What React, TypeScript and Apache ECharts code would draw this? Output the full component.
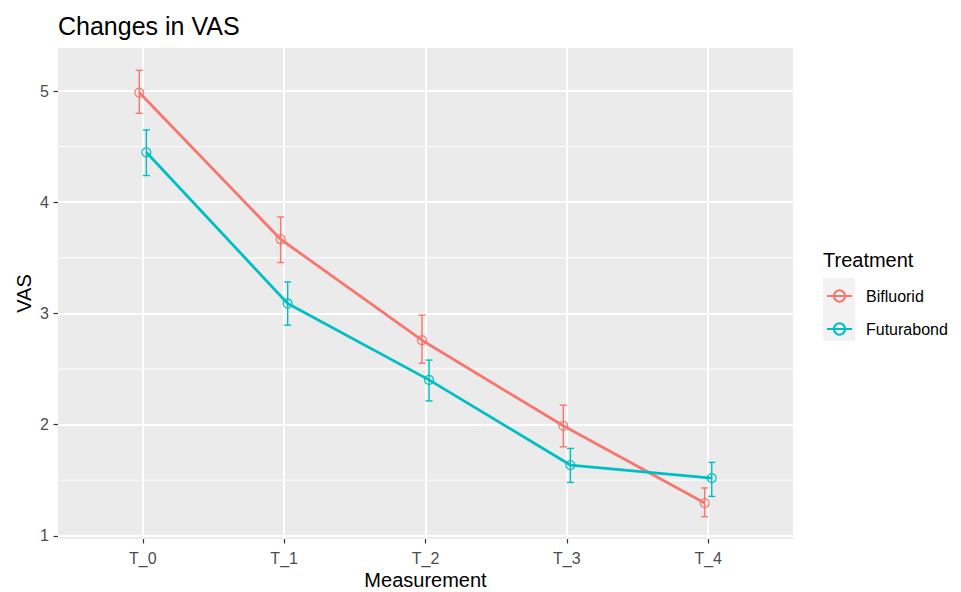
import React, { useEffect, useRef } from "react";
import * as echarts from "echarts";

const categories = ["T_0", "T_1", "T_2", "T_3", "T_4"];
const seriesNames = ["Bifluorid", "Futurabond"];
const bifluoridMean = [4.986, 3.667, 2.759, 1.989, 1.294];
const bifluoridLower = [4.8, 3.457, 2.553, 1.8, 1.172];
const bifluoridUpper = [5.186, 3.867, 2.984, 2.175, 1.43];
const futurabondMean = [4.449, 3.089, 2.402, 1.636, 1.519];
const futurabondLower = [4.24, 2.894, 2.213, 1.48, 1.354];
const futurabondUpper = [4.65, 3.283, 2.58, 1.786, 1.66];
const yTicks = [1, 2, 3, 4, 5];
const yMinor = [1.5, 2.5, 3.5, 4.5];

const COLORS = ["#F8766D", "#00BFC4"];
const FONT = "'Liberation Sans', Arial, sans-serif";
const X_MIN = -0.6;
const X_MAX = 4.6;
const Y_MIN = 0.971;
const Y_MAX = 5.387;
const DODGE = 0.025;

export default function App() {
  const ref = useRef<HTMLDivElement>(null);
  useEffect(() => {
    if (!ref.current) return;
    const chart = echarts.init(ref.current, null, { renderer: "svg" });
    const groups = [
      { name: seriesNames[0], mean: bifluoridMean, lo: bifluoridLower, hi: bifluoridUpper, off: -DODGE },
      { name: seriesNames[1], mean: futurabondMean, lo: futurabondLower, hi: futurabondUpper, off: DODGE },
    ];
    const series: any[] = [];
    series.push({
      type: "custom",
      name: "minorGrid",
      silent: true,
      z: 1,
      data: yMinor.map((v) => [v]),
      renderItem: (params: any, api: any) => {
        const v = api.value(0);
        const a = api.coord([X_MIN, v]);
        const b = api.coord([X_MAX, v]);
        return {
          type: "line",
          shape: { x1: a[0], y1: a[1], x2: b[0], y2: b[1] },
          style: { stroke: "#FFFFFF", lineWidth: 1 },
        };
      },
    });
    groups.forEach((g, gi) => {
      series.push({
        type: "custom",
        name: g.name + " error",
        silent: true,
        z: 3,
        data: categories.map((_, i) => [i + g.off, g.lo[i], g.hi[i]]),
        renderItem: (params: any, api: any) => {
          const x = api.value(0);
          const lo = api.coord([x, api.value(1)]);
          const hi = api.coord([x, api.value(2)]);
          const w = 3.5;
          const st = { stroke: COLORS[gi], lineWidth: 1.4 };
          return {
            type: "group",
            children: [
              { type: "line", shape: { x1: lo[0], y1: lo[1], x2: hi[0], y2: hi[1] }, style: st },
              { type: "line", shape: { x1: lo[0] - w, y1: lo[1], x2: lo[0] + w, y2: lo[1] }, style: st },
              { type: "line", shape: { x1: hi[0] - w, y1: hi[1], x2: hi[0] + w, y2: hi[1] }, style: st },
            ],
          };
        },
      });
    });
    groups.forEach((g, gi) => {
      series.push({
        type: "line",
        name: g.name,
        z: 4,
        data: categories.map((_, i) => [i + g.off, g.mean[i]]),
        symbol: "circle",
        symbolSize: 9,
        color: COLORS[gi],
        itemStyle: { color: "rgba(0,0,0,0)", borderColor: COLORS[gi], borderWidth: 1.2 },
        lineStyle: { color: COLORS[gi], width: 2.8 },
        emphasis: { disabled: true },
      });
    });

    chart.setOption({
      animation: false,
      backgroundColor: "#FFFFFF",
      textStyle: { fontFamily: FONT },
      title: {
        text: "Changes in VAS",
        left: 58,
        top: 13,
        padding: 0,
        textStyle: { fontFamily: FONT, fontSize: 25, fontWeight: "normal", color: "#000000" },
      },
      grid: {
        left: 58,
        top: 48,
        width: 735,
        height: 491,
        show: true,
        backgroundColor: "#EBEBEB",
        borderWidth: 0,
        containLabel: false,
        outerBoundsMode: "none",
      },
      xAxis: {
        type: "value",
        min: X_MIN,
        max: X_MAX,
        name: "Measurement",
        nameLocation: "middle",
        nameGap: 31,
        nameMoveOverlap: false,
        nameTextStyle: { fontFamily: FONT, fontSize: 20, color: "#000000" },
        axisLine: { show: false, onZero: false },
        axisTick: { show: true, length: 4.5, customValues: [0, 1, 2, 3, 4], lineStyle: { color: "#333333", width: 1.2 } },
        axisLabel: {
          customValues: [0, 1, 2, 3, 4],
          margin: 11,
          fontFamily: FONT,
          fontSize: 16,
          color: "#4D4D4D",
          formatter: (v: number) => categories[Math.round(v)] ?? "",
        },
        splitLine: { show: true, lineStyle: { color: "#FFFFFF", width: 2 } },
      },
      yAxis: {
        type: "value",
        min: Y_MIN,
        max: Y_MAX,
        name: "VAS",
        nameLocation: "middle",
        nameGap: 24,
        nameMoveOverlap: false,
        nameTextStyle: { fontFamily: FONT, fontSize: 20, color: "#000000" },
        axisLine: { show: false, onZero: false },
        axisTick: { show: true, length: 4.5, customValues: yTicks, lineStyle: { color: "#333333", width: 1.2 } },
        axisLabel: {
          customValues: yTicks,
          margin: 9,
          fontFamily: FONT,
          fontSize: 16,
          color: "#4D4D4D",
        },
        splitLine: { show: true, lineStyle: { color: "#FFFFFF", width: 2 } },
      },
      legend: {
        data: seriesNames,
        orient: "vertical",
        left: 826,
        top: 288,
        padding: 0,
        itemWidth: 25,
        itemHeight: 14,
        itemGap: 17,
        selectedMode: false,
        textStyle: { fontFamily: FONT, fontSize: 16, color: "#000000", padding: [0, 0, 0, 9] },
      },
      graphic: [
        {
          type: "rect",
          left: 823,
          top: 278,
          z: -1,
          shape: { width: 32, height: 63 },
          style: { fill: "#F2F2F2" },
        },
        {
          type: "text",
          left: 823,
          top: 250,
          style: { text: "Treatment", fontFamily: FONT, fontSize: 20, fill: "#000000" },
        },
      ],
      series,
    });
    return () => chart.dispose();
  }, []);
  return <div ref={ref} style={{ width: 961, height: 592, position: "absolute", left: 0, top: 0 }} />;
}
